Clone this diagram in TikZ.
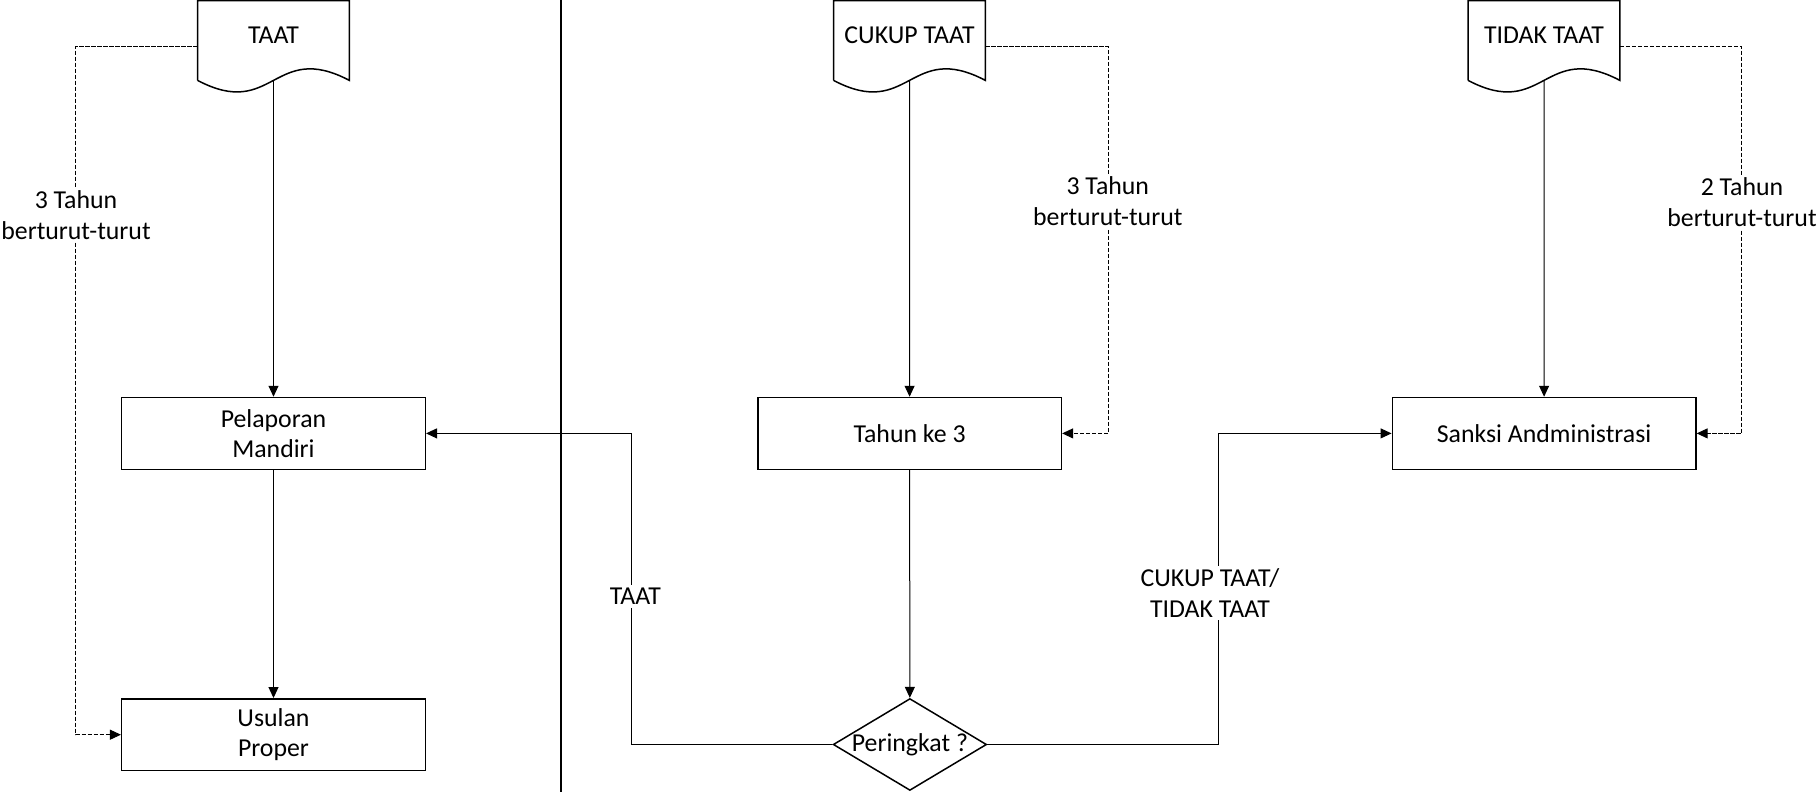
\documentclass[tikz,border=0pt]{standalone}
\usepackage{fontspec}
\setmainfont{Carlito}
\usetikzlibrary{arrows.meta,shapes.geometric,calc}
\newcommand\mydocshape[1]{%
  \draw[boxline] ($(#1.south west)+(0,11)$) -- (#1.north west) -- (#1.north east) -- ($(#1.south east)+(0,11)$)
    .. controls ($(#1.south)+(0,-29)$) and ($(#1.south)+(0,51)$) .. ($(#1.south west)+(0,11)$);
  \coordinate (#1b) at ($(#1.south)+(0,11)$);}
\begin{document}
\begin{tikzpicture}[x=0.5pt,y=-0.5pt,
  txt/.style={font=\fontsize{12.9}{15.2}\selectfont, align=center},
  boxline/.style={line width=0.75pt},
  box/.style={txt, draw, boxline, minimum width=151.8pt, minimum height=35.9pt, inner sep=0pt},
  docnode/.style={txt, minimum width=75.5pt, minimum height=34pt, inner sep=0pt},
  decision/.style={txt, draw, boxline, diamond, aspect=1.67, inner sep=0pt, minimum width=75.9pt, minimum height=45.5pt},
  conn/.style={line width=0.5pt, -{Triangle[length=5.5pt,width=5pt]}},
  dconn/.style={conn, dash pattern=on 2.1pt off 0.9pt},
  lbl/.style={txt, fill=white, inner sep=1.5pt}]
\useasboundingbox (0,0) rectangle (1817,792);

% divider
\draw[line width=1.2pt] (560.7,0) -- (560.7,792);

% documents
\node[docnode] (taat) at (273.5,35) {TAAT};
\node[docnode] (cukup) at (909.5,35) {CUKUP TAAT};
\node[docnode] (tidak) at (1544,35) {TIDAK TAAT};
\mydocshape{taat}
\mydocshape{cukup}
\mydocshape{tidak}

% process boxes
\node[box] (pel) at (273.5,433.4) {Pelaporan\\Mandiri};
\node[box] (usul) at (273.5,734.7) {Usulan\\Proper};
\node[box] (tahun) at (909.6,433.4) {Tahun ke 3};
\node[box] (sanksi) at (1544.1,433.4) {Sanksi Andministrasi};
\node[decision] (per) at (909.9,744.5) {Peringkat ?};

% solid connectors
\draw[conn] (taatb) -- (pel);
\draw[conn] (pel) -- (usul);
\draw[conn] (cukupb) -- (tahun);
\draw[conn] (tahun) -- (per);
\draw[conn] (tidakb) -- (sanksi);
\coordinate (lx) at (631.5,600);
\coordinate (rx) at (1218,600);
\draw[conn] (per.west) -- (per.west -| lx) |- (pel.east);
\draw[conn] (per.east) -- (per.east -| rx) |- (sanksi.west);

% dashed connectors
\draw[dconn] ($(taat.west)+(0,11.7)$) -- ++(-122,0) |- (usul.west);
\draw[dconn] ($(cukup.east)+(0,11.7)$) -- ++(122.8,0) |- (tahun.east);
\draw[dconn] ($(tidak.east)+(0,11.7)$) -- ++(122,0) |- (sanksi.east);

% labels
\node[lbl] (l1) at (76,215) {3 Tahun\\berturut-turut};
\node[lbl] (l2) at (1107.8,201) {3 Tahun\\berturut-turut};
\node[lbl] (l3) at (1742,202) {2 Tahun\\berturut-turut};
\node[lbl] (l4) at (635.4,596.3) {TAAT};
\node[lbl] (l5) at (1210,593) {CUKUP TAAT/\\TIDAK TAAT};
\end{tikzpicture}
\end{document}
